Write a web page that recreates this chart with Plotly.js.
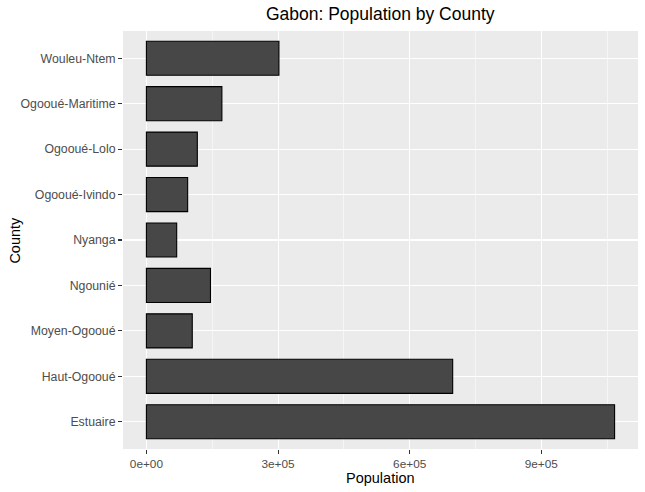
<!DOCTYPE html>
<html>
<head>
<meta charset="utf-8">
<script src="https://cdn.plot.ly/plotly-3.0.1.min.js"></script>
<style>html,body{margin:0;padding:0;background:#fff;}#chart{width:645px;height:492px;}</style>
</head>
<body>
<div id="chart"></div>
<script>
const counties = ["Estuaire", "Haut-Ogooué", "Moyen-Ogooué", "Ngounié", "Nyanga", "Ogooué-Ivindo", "Ogooué-Lolo", "Ogooué-Maritime", "Wouleu-Ntem"];
const population = [1067000, 698000, 104500, 146000, 69000, 94000, 116000, 172000, 302000];
const xTickVals = [0, 300000, 600000, 900000];
const xTickText = ["0e+00", "3e+05", "6e+05", "9e+05"];

const maxPop = Math.max(...population);
const font = "'Liberation Sans', Arial, Helvetica, sans-serif";

const trace = {
  type: "bar",
  orientation: "h",
  x: population,
  y: counties,
  width: 0.75,
  marker: { color: "#474747", line: { color: "#000000", width: 1.1 } },
  hoverinfo: "x+y"
};

const layout = {
  width: 645,
  height: 492,
  paper_bgcolor: "#ffffff",
  plot_bgcolor: "#EBEBEB",
  margin: { l: 122.5, r: 7, t: 31, b: 43, pad: 0 },
  showlegend: false,
  bargap: 0.25,
  title: {
    text: "Gabon: Population by County",
    font: { family: font, size: 17.5, color: "#000000" },
    x: (122.5 + 638) / 2 / 645,
    xanchor: "center",
    y: 1 - 14 / 492,
    yanchor: "middle"
  },
  xaxis: {
    range: [-0.05 * maxPop, 1.05 * maxPop],
    tickvals: xTickVals,
    ticktext: xTickText,
    tickfont: { family: font, size: 11.8, color: "#4D4D4D" },
    ticks: "outside",
    ticklen: 4,
    tickwidth: 1.07,
    tickcolor: "#333333",
    showgrid: true,
    gridcolor: "#FFFFFF",
    gridwidth: 1.07,
    zeroline: false,
    showline: false,
    minor: { dtick: 150000, tick0: 0, showgrid: true, gridcolor: "#FFFFFF", gridwidth: 0.53, ticks: "" },
    fixedrange: true
  },
  yaxis: {
    type: "category",
    categoryorder: "array",
    categoryarray: counties,
    range: [-0.6, counties.length - 0.4],
    tickfont: { family: font, size: 12.3, color: "#4D4D4D" },
    ticks: "outside",
    ticklen: 4,
    tickwidth: 1.07,
    tickcolor: "#333333",
    showgrid: true,
    gridcolor: "#FFFFFF",
    gridwidth: 1.07,
    zeroline: false,
    showline: false,
    fixedrange: true
  },
  annotations: [
    {
      text: "Population",
      xref: "paper", yref: "paper",
      x: 0.5, y: -(478 - 449) / (492 - 31 - 43),
      xanchor: "center", yanchor: "middle",
      showarrow: false,
      font: { family: font, size: 14.5, color: "#000000" }
    },
    {
      text: "County",
      xref: "paper", yref: "paper",
      x: -(122.5 - 14) / (645 - 122.5 - 7), y: 0.5,
      xanchor: "center", yanchor: "middle",
      textangle: -90,
      showarrow: false,
      font: { family: font, size: 14.5, color: "#000000" }
    }
  ]
};

Plotly.newPlot("chart", [trace], layout, { displayModeBar: false, staticPlot: true });
</script>
</body>
</html>
